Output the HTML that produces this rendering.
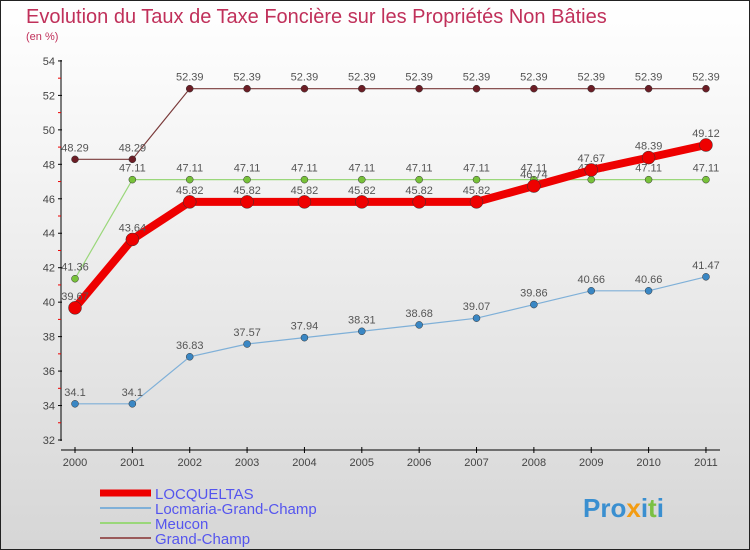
<!DOCTYPE html>
<html><head><meta charset="utf-8"><style>
body{margin:0}
#c{width:750px;height:550px;position:relative;box-sizing:border-box;border:1px solid #222;background:linear-gradient(#fff 0%,#f4f4f4 30%,#d6d6d6 100%);font-family:"Liberation Sans",sans-serif;overflow:hidden}
</style></head><body>
<div id="c">
<svg id="s" width="750" height="550" style="position:absolute;left:-1px;top:-1px" font-family="Liberation Sans, sans-serif">
<text x="26" y="23" font-size="20" fill="#c0305a">Evolution du Taux de Taxe Foncière sur les Propriétés Non Bâties</text>
<text x="26" y="40" font-size="11" fill="#c0305a">(en %)</text>
<g id="axes"></g><g id="series"></g><g id="legend"></g>
<text x="583" y="517" font-size="26" font-weight="bold" fill="#3a8fd0">Pro<tspan fill="#f39c12">x</tspan>i<tspan fill="#7bc043">t</tspan>i</text>
</svg>
</div>
<script>
const years=[2000,2001,2002,2003,2004,2005,2006,2007,2008,2009,2010,2011];
const yTicks=[32,34,36,38,40,42,44,46,48,50,52,54];
const locqueltas=[39.67,43.64,45.82,45.82,45.82,45.82,45.82,45.82,46.74,47.67,48.39,49.12];
const locmaria=[34.1,34.1,36.83,37.57,37.94,38.31,38.68,39.07,39.86,40.66,40.66,41.47];
const meucon=[41.36,47.11,47.11,47.11,47.11,47.11,47.11,47.11,47.11,47.11,47.11,47.11];
const grandChamp=[48.29,48.29,52.39,52.39,52.39,52.39,52.39,52.39,52.39,52.39,52.39,52.39];
const seriesNames=["LOCQUELTAS","Locmaria-Grand-Champ","Meucon","Grand-Champ"];
const NS="http://www.w3.org/2000/svg";
const X=i=>75+i*57.36;
const Y=v=>440-(v-32)*17.23;
function mk(tag,attrs,parent){const e=document.createElementNS(NS,tag);for(const k in attrs)e.setAttribute(k,attrs[k]);parent.appendChild(e);return e;}
const ax=document.getElementById('axes');
let a=mk('line',{x1:61,y1:60,x2:61,y2:441,stroke:'#000','stroke-width':1},ax);


a=mk('line',{x1:61,y1:450,x2:720,y2:450,stroke:'#000','stroke-width':1},ax);


yTicks.forEach((v,i)=>{
  mk('line',{x1:58,y1:Y(v),x2:62,y2:Y(v),stroke:'#000'},ax);
  if(i<yTicks.length-1)mk('line',{x1:58,y1:Y(v+1),x2:61,y2:Y(v+1),stroke:'#e00'},ax);
  const t=mk('text',{x:55,y:Y(v)+4,'text-anchor':'end','font-size':11,fill:'#444'},ax);
  t.textContent=v;
  
  
});
years.forEach((y,i)=>{
  mk('line',{x1:X(i),y1:447,x2:X(i),y2:453,stroke:'#000'},ax);
  const t=mk('text',{x:X(i),y:466,'text-anchor':'middle','font-size':11,fill:'#444'},ax);
  t.textContent=y;
  
  
});
const sg=document.getElementById('series');
const defs=[
 {d:grandChamp,c:'#7a3a3a',f:'#6b1d25',w:1.2,r:3.5,n:'grand-champ'},
 {d:meucon,c:'#9ad77a',f:'#78c23a',w:1.2,r:3.5,n:'meucon'},
 {d:locmaria,c:'#7fb0d8',f:'#3a87c4',w:1.2,r:3.5,n:'locmaria-grand-champ'},
 {d:locqueltas,c:'#ee0000',f:'#ee0000',w:8,r:6.5,n:'locqueltas'}
];
defs.forEach(s=>{
  const g=mk('g',{},sg);
  
  
  const p=mk('polyline',{points:s.d.map((v,i)=>X(i)+','+Y(v)).join(' '),fill:'none',stroke:s.c,'stroke-width':s.w},g);
  
  
  s.d.forEach((v,i)=>{
    const c=mk('circle',{cx:X(i),cy:Y(v),r:s.r,fill:s.f,stroke:'#333','stroke-width':0.5},g);
    
    
    const t=mk('text',{x:X(i),y:Y(v)-8,'text-anchor':'middle','font-size':11,fill:'#555'},g);
    t.textContent=v;
    
    
  });
});
const lg=document.getElementById('legend');
const lc=['#ee0000','#7fb0d8','#9ad77a','#9a5a5a'],lw=[7,2,2,2];
seriesNames.forEach((n,i)=>{
  const y=493+i*15;
  const l=mk('line',{x1:100,y1:y,x2:151,y2:y,stroke:lc[i],'stroke-width':lw[i]},lg);
  
  
  const t=mk('text',{x:155,y:y+6,'font-size':15,fill:'#5555ee'},lg);
  t.textContent=n;
  
  
});
</script>
</body></html>
